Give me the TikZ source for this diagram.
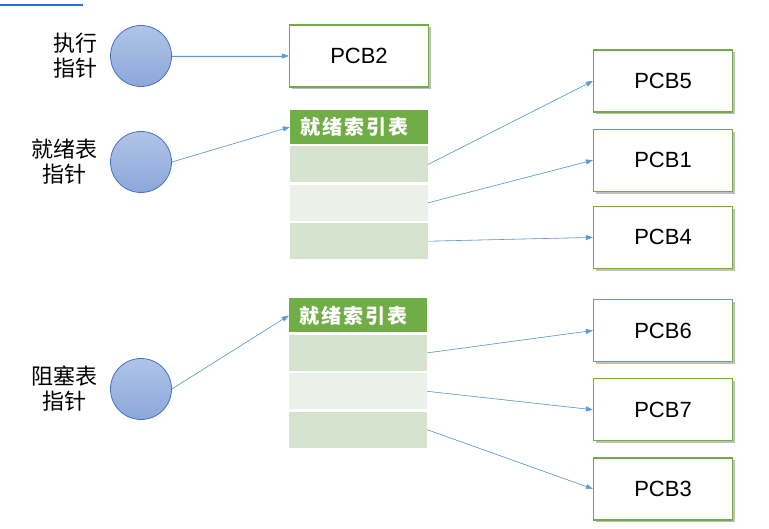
\documentclass[tikz,border=0pt]{standalone}
\usepackage{fontspec}
\setmainfont{Liberation Sans}
\newfontfamily\cjk{Noto Sans CJK SC}
\newfontfamily\cjkhead[LetterSpace=10]{Noto Sans CJK SC}
\usepackage{xcolor}
\usetikzlibrary{shapes,arrows.meta,positioning,calc,shadows}
\definecolor{pcbgreen}{HTML}{70AD47}
\definecolor{rowdark}{HTML}{D6E3CF}
\definecolor{rowlight}{HTML}{EBF0E8}
\definecolor{linkblue}{HTML}{5B9BD5}
\definecolor{ptrblue}{HTML}{4472C4}
\definecolor{slideblue}{HTML}{1F6FE0}

\begin{document}
\begin{tikzpicture}[
    x=1pt, y=-1pt,
    pcb/.style={rectangle, draw=pcbgreen, line width=1.2pt, fill=white, minimum width=139pt, minimum height=62pt, font=\fontsize{22}{24}\selectfont, drop shadow={shadow xshift=2.5pt, shadow yshift=-2.5pt, fill=black, opacity=0.25}},
    ptr/.style={circle, draw=ptrblue, line width=0.8pt, top color=ptrblue!42, bottom color=ptrblue!62, minimum size=61pt, inner sep=0pt},
    ptrlabel/.style={align=center, font=\cjk\fontsize{22}{25}\selectfont},
    tblhead/.style={rectangle, fill=pcbgreen, text=white, text width=118pt, inner xsep=10pt, inner ysep=0pt, minimum height=34pt, align=left, font=\cjkhead\bfseries\fontsize{20}{22}\selectfont},
    tblrow/.style={rectangle, minimum width=138pt, minimum height=36pt, inner sep=0pt},
    arrow/.style={-{Triangle[length=7pt,width=5pt]}, draw=linkblue, fill=linkblue, line width=0.6pt}
]
    \useasboundingbox (0,0) rectangle (769,529);
    \draw[slideblue, line width=2pt] (0,5) -- (83,5);

    % pointers
    \node[ptr] (exec) at (141,56) {};
    \node[ptrlabel, left=9pt of exec] (execlabel) {执行\\指针};
    \node[ptr] (ready) at (141,162) {};
    \node[ptrlabel, left=9pt of ready] (readylabel) {就绪表\\指针};
    \node[ptr] (block) at (141,389) {};
    \node[ptrlabel, left=9pt of block] (blocklabel) {阻塞表\\指针};

    % running PCB
    \node[pcb] (pcb2) at (359,56) {PCB2};

    % ready index table
    \node[tblhead] (readyhead) at (359,127) {就绪索引表};
    \node[tblrow, fill=rowdark, below=2pt of readyhead] (ready1) {};
    \node[tblrow, fill=rowlight, below=2pt of ready1] (ready2) {};
    \node[tblrow, fill=rowdark, below=2pt of ready2] (ready3) {};

    % blocked index table
    \node[tblhead] (blockhead) at (358,315.5) {就绪索引表};
    \node[tblrow, fill=rowdark, below=2pt of blockhead] (block1) {};
    \node[tblrow, fill=rowlight, below=2pt of block1] (block2) {};
    \node[tblrow, fill=rowdark, below=2pt of block2] (block3) {};

    % PCB queues
    \node[pcb] (pcb5) at (663,81) {PCB5};
    \node[pcb, below=16pt of pcb5] (pcb1) {PCB1};
    \node[pcb, below=14pt of pcb1] (pcb4) {PCB4};
    \node[pcb] (pcb6) at (663,330.5) {PCB6};
    \node[pcb, below=16pt of pcb6] (pcb7) {PCB7};
    \node[pcb, below=16pt of pcb7] (pcb3) {PCB3};

    \draw[arrow] (exec.east) -- (pcb2.west);
    \draw[arrow] (ready.east) -- (readyhead.west);
    \draw[arrow] (block.east) -- (blockhead.west);
    \draw[arrow] (ready1.east) -- (pcb5.west);
    \draw[arrow] (ready2.east) -- (pcb1.west);
    \draw[arrow] (ready3.east) -- (pcb4.west);
    \draw[arrow] (block1.east) -- (pcb6.west);
    \draw[arrow] (block2.east) -- (pcb7.west);
    \draw[arrow] (block3.east) -- (pcb3.west);
\end{tikzpicture}
\end{document}
